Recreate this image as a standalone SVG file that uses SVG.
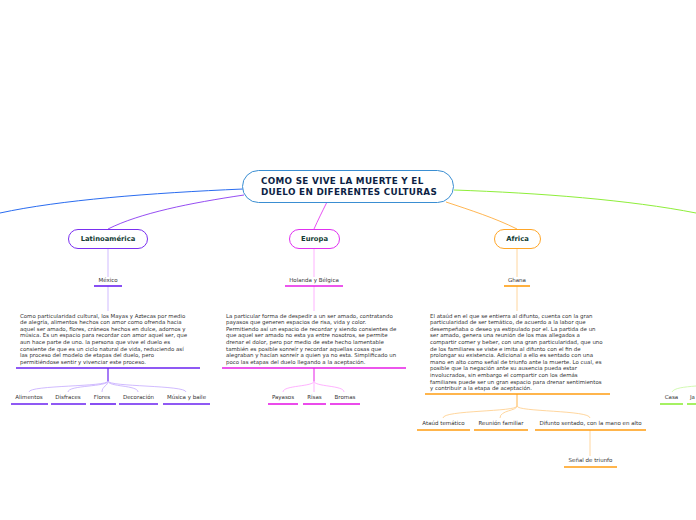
<svg xmlns="http://www.w3.org/2000/svg" width="696" height="520" viewBox="0 0 696 520">
<style>
.para{font-family:"DejaVu Sans",Verdana,sans-serif;font-size:5.45px;fill:#333}
.lbl{font-family:"DejaVu Sans",Verdana,sans-serif;font-size:5.5px;fill:#333;text-anchor:middle}
.node{font-family:"DejaVu Sans",Verdana,sans-serif;font-size:6.8px;font-weight:bold;fill:#123c33;text-anchor:middle}
.title{font-family:"DejaVu Sans",Verdana,sans-serif;font-size:8.8px;font-weight:bold;fill:#0d1f45;letter-spacing:0.3px}
.c{fill:none}
.up{stroke:#6a22f0;stroke-width:1.6}
.upl{stroke:#c4aaff;stroke-width:0.8;fill:none}
.pk{stroke:#e61ee6;stroke-width:1.6}
.pkl{stroke:#ffa0ff;stroke-width:0.8;fill:none}
.or{stroke:#ff9d10;stroke-width:1.6}
.orl{stroke:#ffcb85;stroke-width:0.8;fill:none}
.gr{stroke:#8eee3a;stroke-width:1.6}
</style>
<rect width="696" height="520" fill="#fff"/>
<g id="connectors">
<path class="c" d="M243,189 C150,193 60,200 0,213" stroke="#2a6cf0" stroke-width="1"/>
<path class="c" d="M244,195 C190,203 140,213 108,229" stroke="#8a3af0" stroke-width="0.9"/>
<path class="c" d="M327,202 C322,212 318,220 314,229" stroke="#e43ef0" stroke-width="0.9"/>
<path class="c" d="M446,202 C470,210 495,218 517,229" stroke="#ffae40" stroke-width="0.9"/>
<path class="c" d="M454,190 C540,193 630,200 696,213" stroke="#8eee3a" stroke-width="1"/>
<line class="upl" x1="108" y1="248" x2="108" y2="277"/>
<line class="upl" x1="108" y1="286" x2="108" y2="311"/>
<line x1="108" y1="368" x2="108" y2="381" stroke="#6a22f0" stroke-width="1.2"/>
<path class="upl" d="M108,381 C108,387 29,385 29,392"/>
<path class="upl" d="M108,381 C108,387 68,385 68,392"/>
<path class="upl" d="M108,381 C108,386 102,386 102,392"/>
<path class="upl" d="M108,381 C108,387 138,385 138,392"/>
<path class="upl" d="M108,381 C108,387 186,385 186,392"/>
<line class="pkl" x1="314" y1="248" x2="314" y2="277"/>
<line class="pkl" x1="314" y1="286" x2="314" y2="311"/>
<line x1="314" y1="368" x2="314" y2="381" stroke="#e61ee6" stroke-width="1"/>
<path class="pkl" d="M314,381 C314,387 283,385 283,392"/>
<line class="pkl" x1="314" y1="381" x2="314" y2="392"/>
<path class="pkl" d="M314,381 C314,387 344,385 344,392"/>
<line class="orl" x1="517" y1="248" x2="517" y2="277"/>
<line class="orl" x1="517" y1="286" x2="517" y2="311"/>
<line x1="517" y1="394" x2="517" y2="406" stroke="#ffb347" stroke-width="1"/>
<path class="orl" d="M517,406 C517,412 443,410 443,418"/>
<path class="orl" d="M517,406 C517,411 500,410 500,418"/>
<path class="orl" d="M517,406 C517,412 590,410 590,418"/>
<line class="orl" x1="590" y1="430" x2="590" y2="456"/>
<path class="c" d="M672,392 C674,388 684,387 696,386" stroke="#c6f7a0" stroke-width="0.8"/>
</g>
<g id="central">
<rect x="242.5" y="170.5" width="211" height="32" rx="16" fill="#fff" stroke="#3a8ed2" stroke-width="1"/>
<text class="title" x="261" y="184.3">COMO SE VIVE LA MUERTE Y EL</text>
<text class="title" x="261" y="195">DUELO EN DIFERENTES CULTURAS</text>
</g>
<g id="latinoamerica">
<rect x="68.5" y="229.5" width="79" height="19" rx="9.5" fill="#fff" stroke="#7a2ff0" stroke-width="1"/>
<text class="node" x="108" y="241.4">Latinoamérica</text>
</g>
<g id="europa">
<rect x="289.5" y="229.5" width="50" height="19" rx="9.5" fill="#fff" stroke="#e030f0" stroke-width="1"/>
<text class="node" x="314.5" y="241.4">Europa</text>
</g>
<g id="africa">
<rect x="494.5" y="229.5" width="46" height="19" rx="9.5" fill="#fff" stroke="#ffa628" stroke-width="1"/>
<text class="node" x="517.5" y="241.4">Africa</text>
</g>
<g id="mexico">
<text class="lbl" x="108" y="282">México</text>
<line class="up" x1="94" y1="286" x2="122" y2="286"/>
</g>
<g id="latin-text">
<text class="para" x="20" y="317.5">Como particularidad cultural, los Mayas y Aztecas por medio</text>
<text class="para" x="20" y="324.1">de alegría, alimentos hechos con amor como ofrenda hacia</text>
<text class="para" x="20" y="330.7">aquel ser amado, flores, cráneos hechos en dulce, adornos y</text>
<text class="para" x="20" y="337.3">música. Es un espacio para recordar con amor aquel ser, que</text>
<text class="para" x="20" y="343.9">aun hace parte de uno. la persona que vive el duelo es</text>
<text class="para" x="20" y="350.5">consiente de que es un ciclo natural de vida, reduciendo así</text>
<text class="para" x="20" y="357.1">las proceso del modelo de etapas del duelo, pero</text>
<text class="para" x="20" y="363.7">permitiéndose sentir y vivenciar este proceso.</text>
<line class="up" x1="16" y1="368" x2="200" y2="368"/>
</g>
<g id="alimentos"><text class="lbl" x="29" y="399">Alimentos</text><line class="up" x1="11" y1="404" x2="48" y2="404"/></g>
<g id="disfraces"><text class="lbl" x="68" y="399">Disfraces</text><line class="up" x1="51" y1="404" x2="86" y2="404"/></g>
<g id="flores"><text class="lbl" x="102" y="399">Flores</text><line class="up" x1="90" y1="404" x2="116" y2="404"/></g>
<g id="decoracion"><text class="lbl" x="138.5" y="399">Decoración</text><line class="up" x1="119" y1="404" x2="158" y2="404"/></g>
<g id="musica"><text class="lbl" x="186.5" y="399">Música y baile</text><line class="up" x1="163" y1="404" x2="210" y2="404"/></g>
<g id="holanda">
<text class="lbl" x="314" y="282">Holanda y Bélgica</text>
<line class="pk" x1="285" y1="286" x2="343" y2="286"/>
</g>
<g id="europa-text">
<text class="para" x="226" y="317.5">La particular forma de despedir a un ser amado, contratando</text>
<text class="para" x="226" y="324.1">payasos que generen espacios de risa, vida y color.</text>
<text class="para" x="226" y="330.7">Permitiendo así un espacio de recordar y siendo consientes de</text>
<text class="para" x="226" y="337.3">que aquel ser amado no esta ya entre nosotros, se permite</text>
<text class="para" x="226" y="343.9">drenar el dolor, pero por medio de este hecho lamentable</text>
<text class="para" x="226" y="350.5">también es posible sonreír y recordar aquellas cosas que</text>
<text class="para" x="226" y="357.1">alegraban y hacían sonreír a quien ya no esta. Simplificado un</text>
<text class="para" x="226" y="363.7">poco las etapas del duelo llegando a la aceptación.</text>
<line class="pk" x1="222" y1="368" x2="406" y2="368"/>
</g>
<g id="payasos"><text class="lbl" x="283" y="399">Payasos</text><line class="pk" x1="268" y1="404" x2="298" y2="404"/></g>
<g id="risas"><text class="lbl" x="314.5" y="399">Risas</text><line class="pk" x1="303" y1="404" x2="326" y2="404"/></g>
<g id="bromas"><text class="lbl" x="345" y="399">Bromas</text><line class="pk" x1="330" y1="404" x2="360" y2="404"/></g>
<g id="ghana">
<text class="lbl" x="517" y="282">Ghana</text>
<line class="or" x1="504" y1="286" x2="530" y2="286"/>
</g>
<g id="africa-text">
<text class="para" x="430" y="317.5">El ataúd en el que se entierra al difunto, cuenta con la gran</text>
<text class="para" x="430" y="324.1">particularidad de ser temático, de acuerdo a la labor que</text>
<text class="para" x="430" y="330.7">desempeñaba o deseo ya estipulado por el. La partida de un</text>
<text class="para" x="430" y="337.3">ser amado, genera una reunión de los mas allegados a</text>
<text class="para" x="430" y="343.9">compartir comer y beber, con una gran particularidad, que uno</text>
<text class="para" x="430" y="350.5">de los familiares se viste e imita al difunto con el fin de</text>
<text class="para" x="430" y="357.1">prolongar su existencia. Adicional a ello es sentado con una</text>
<text class="para" x="430" y="363.7">mano en alto como señal de triunfo ante la muerte. Lo cual, es</text>
<text class="para" x="430" y="370.3">posible que la negación ante su ausencia pueda estar</text>
<text class="para" x="430" y="376.9">involucrados, sin embargo el compartir con los demás</text>
<text class="para" x="430" y="383.5">familiares puede ser un gran espacio para drenar sentimientos</text>
<text class="para" x="430" y="390.1">y contribuir a la etapa de aceptación.</text>
<line class="or" x1="425" y1="394" x2="610" y2="394"/>
</g>
<g id="ataud"><text class="lbl" x="443.5" y="425">Ataúd temático</text><line class="or" x1="417" y1="430" x2="470" y2="430"/></g>
<g id="reunion"><text class="lbl" x="501" y="425">Reunión familiar</text><line class="or" x1="474" y1="430" x2="528" y2="430"/></g>
<g id="difunto"><text class="lbl" x="590.5" y="425">Difunto sentado, con la mano en alto</text><line class="or" x1="535" y1="430" x2="646" y2="430"/></g>
<g id="senal"><text class="lbl" x="590.5" y="462">Señal de triunfo</text><line class="or" x1="564" y1="467" x2="617" y2="467"/></g>
<g id="casa"><text class="lbl" x="671.5" y="399">Casa</text><line class="gr" x1="660" y1="404" x2="683" y2="404"/></g>
<g id="ja"><text class="para" x="690" y="399">Ja</text><line class="gr" x1="687" y1="404" x2="696" y2="404"/></g>
</svg>
